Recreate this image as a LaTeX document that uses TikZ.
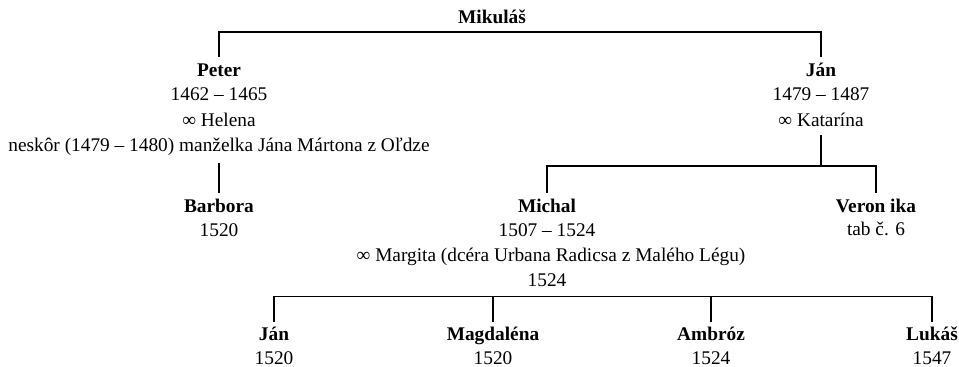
\documentclass[tikz,border=0pt]{standalone}
\usepackage{fontspec}
\setmainfont{Liberation Serif}
\begin{document}
\begin{tikzpicture}[x=0.75pt,y=-0.75pt,
  every node/.style={inner sep=0pt, font=\fontsize{14.5pt}{17pt}\selectfont},
  nm/.style={anchor=base, font=\fontsize{14.5pt}{17pt}\selectfont\bfseries,
             text height=14.25pt, text depth=0pt},
  tx/.style={anchor=base, text depth=0pt},
  link/.style={line width=1.4pt, line join=miter}]
\useasboundingbox (0,0) rectangle (959,367);

% horizontal levels of the sibling bars
\coordinate (topbar) at (0,32);
\coordinate (midbar) at (0,166);
\coordinate (lowbar) at (0,296.5);

% generation I
\node[nm] (mikulas) at (492,24) {Mikuláš};

% generation II
\node[nm] (peter) at (219,76.5) {Peter};
\node[tx] (peterD) at (219,101) {1462 – 1465};
\node[tx] (peterW) at (219,126.5) {∞ Helena};
\node[tx, text depth=8.6pt] (peterN) at (219,151.5) {neskôr (1479 – 1480) manželka Jána Mártona z Oľdze};

\node[nm] (jan) at (821,76.5) {Ján};
\node[tx] (janD) at (821,101) {1479 – 1487};
\node[tx, text depth=6pt] (janW) at (821,126.5) {∞ Katarína};

% generation III
\node[nm] (barbora) at (219,212) {Barbora};
\node[tx] (barboraD) at (219,236) {1520};

\node[nm] (michal) at (547,212) {Michal};
\node[tx] (michalD) at (547,236) {1507 – 1524};
\node[tx] (michalW) at (551,261) {∞ Margita (dcéra Urbana Radicsa z Malého Légu)};
\node[tx] (michalM) at (547,286) {1524};

\node[nm] (veronika) at (876,212) {Veron ika};
\node[tx] (veronikaR) at (876,235) {tab č. 6};

% generation IV
\node[nm, text height=13.5pt] (c1) at (274,340) {Ján};
\node[tx] (c1D) at (274,364) {1520};
\node[nm, text height=13.5pt] (c2) at (493,340) {Magdaléna};
\node[tx] (c2D) at (493,364) {1520};
\node[nm, text height=13.5pt] (c3) at (711,340) {Ambróz};
\node[tx] (c3D) at (711,364) {1524};
\node[nm, text height=13.5pt] (c4) at (932,340) {Lukáš};
\node[tx] (c4D) at (932,364) {1547};

% connectors
\draw[link] (peter.north) -- (peter.north |- topbar) -- (jan.north |- topbar) -- (jan.north);
\draw[link] (peterN.south) -- (barbora.north);
\draw[link] (janW.south) -- (janW.south |- midbar);
\draw[link] (michal.north) -- (michal.north |- midbar) -- (veronika.north |- midbar) -- (veronika.north);
\draw[link] (c1.north) -- (c1.north |- lowbar) -- (c4.north |- lowbar) -- (c4.north);
\draw[link] (c2.north) -- (c2.north |- lowbar);
\draw[link] (c3.north) -- (c3.north |- lowbar);
\end{tikzpicture}
\end{document}
